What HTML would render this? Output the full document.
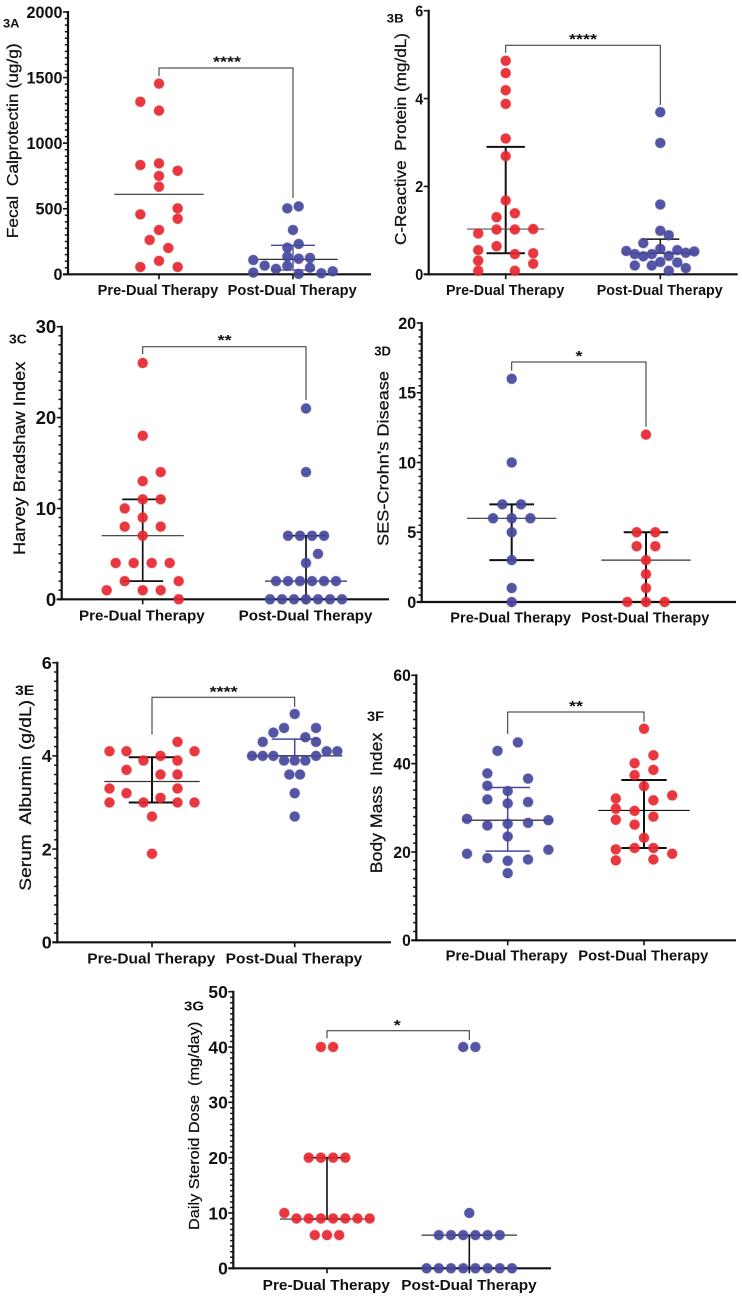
<!DOCTYPE html>
<html lang="en">
<head>
<meta charset="utf-8">
<title>Dual Therapy Outcomes, Panels 3A to 3G</title>
<style>
html,body{margin:0;padding:0;background:#fff;}
svg{display:block;filter:blur(0.3px);}
text{font-family:"Liberation Sans",Arial,sans-serif;fill:#111;white-space:pre;}
</style>
</head>
<body>
<svg id="figure" width="742" height="1298" viewBox="0 0 742 1298" xmlns="http://www.w3.org/2000/svg">
  <g id="panel-a"></g>
  <g id="panel-b"></g>
  <g id="panel-c"></g>
  <g id="panel-d"></g>
  <g id="panel-e"></g>
  <g id="panel-f"></g>
  <g id="panel-g"></g>
</svg>
<script>
const categories = ['Pre-Dual Therapy', 'Post-Dual Therapy'];

// Panel 3A
const aTicks = [0, 500, 1000, 1500, 2000];
const aPreValues = [1454,1316,1248,833,846,790,750,668,503,457,424,338,262,201,102,56,56];
const aPreSlots = [0,-2,0,-2,0,2,0,0,2,-2,2,0,-1,1,0,-2,2];
const aPreStats = [610, null, null];
const aPostValues = [503,518,338,231,203,135,119,125,109,66,41,64,51,13,3,8,23];
const aPostSlots = [-1,1,0,1,-1,-1,1,3,-7,-5,-3,-1,3,-7,1,5,7];
const aPostStats = [114, 33, 221];

// Panel 3B
const bTicks = [0, 2, 4, 6];
const bPreValues = [4.86,4.58,4.19,3.88,3.09,2.69,1.68,1.39,1.30,1.02,1.02,1.03,0.93,0.64,0.55,0.46,0.48,0.31,0.24,0.08,0.08];
const bPreSlots = [0,0,0,0,0,0,0,1,-1,-1,1,3,-3,-1,-3,1,3,-3,3,-3,1];
const bPreStats = [1.03, 0.48, 2.90];
const bPostValues = [3.69,2.99,1.59,0.99,0.89,0.71,0.58,0.55,0.53,0.46,0.41,0.46,0.42,0.49,0.52,0.20,0.20,0.28,0.27,0.14,0.08];
const bPostSlots = [0,0,0,0,1,-2,0,2,-4,-3,-2,-1,1,3,4,-3,-1,0,2,3,1];
const bPostStats = [0.48, 0.48, 0.80];

// Panel 3C
const cTicks = [0, 10, 20, 30];
const cPreValues = [26,18,14,13,11,11,10,9,8,8,7,4,4,4,4,2,2,1,1,1,0];
const cPreSlots = [0,0,2,0,0,2,-2,0,-2,2,0,-3,-1,1,3,-2,4,-4,0,2,4];
const cPreStats = [7, 2, 11];
const cPostValues = [21,14,7,7,7,7,5,4,2,2,2,2,2,2,0,0,0,0,0,0,0];
const cPostSlots = [0,0,-3,-1,1,3,2,0,-5,-3,-1,1,3,5,-6,-4,-2,0,2,4,6];
const cPostStats = [2, 0, 7];

// Panel 3D
const dTicks = [0, 5, 10, 15, 20];
const dPreValues = [16,10,7,7,6,6,6,5,3,1,0];
const dPreSlots = [0,0,-1,1,-2,0,2,0,0,0,0];
const dPreStats = [6, 3, 7];
const dPostValues = [12,5,5,4,4,3,2,1,0,0,0];
const dPostSlots = [0,-1,1,-1,1,0,0,0,-2,0,2];
const dPostStats = [3, 0, 5];

// Panel 3E
const eTicks = [0, 2, 4, 6];
const ePreValues = [4.1,4.1,3.9,4.0,3.9,4.3,4.1,3.7,3.6,3.6,3.3,3.3,3.2,3.1,3.0,3.0,3.0,3.0,2.7,1.9];
const ePreSlots = [-5,-3,-1,1,3,3,5,-3,1,3,-5,3,-3,1,-5,-1,3,5,0,0];
const ePreStats = [3.45, 3.0, 3.97];
const ePostValues = [4.9,4.6,4.6,4.5,4.4,4.3,4.3,4.1,4.1,4.0,4.0,4.0,4.0,3.9,3.9,3.9,3.6,3.6,3.2,2.7];
const ePostSlots = [0,-2,4,-4,2,-6,4,6,8,-8,-6,-4,4,-2,0,2,-1,1,0,0];
const ePostStats = [4.0, 4.0, 4.36];

// Panel 3F
const fTicks = [0, 20, 40, 60];
const fPreValues = [44.8,42.9,37.8,36.6,35,33.8,31.9,31,31.3,27.5,27.2,26,26.4,26.6,23.5,20.5,19.6,18.6,18.3,18,15.2];
const fPreSlots = [1,-1,-2,2,-2,0,-2,0,2,-4,4,-2,0,2,0,4,-4,-2,2,0,0];
const fPreStats = [27.2, 20.2, 34.6];
const fPostValues = [47.9,41.9,40.1,38.6,37.4,34.9,32.8,32.1,31.7,29.8,29.3,28,27.3,26.2,23.2,20.6,20.9,20.9,19.6,18.1,18.3];
const fPostSlots = [0,1,-1,1,-1,0,3,-3,1,-3,-1,1,-3,-1,0,-3,-1,1,3,-3,1];
const fPostStats = [29.4, 20.9, 36.3];

// Panel 3G
const gTicks = [0, 10, 20, 30, 40, 50];
const gPreValues = [40,40,20,20,20,20,10,9,9,9,9,9,9,9,6,6,6];
const gPreSlots = [-1,1,-3,-1,1,3,-7,-5,-3,-1,1,3,5,7,-2,0,2];
const gPreStats = [8.9, 8.9, 20];
const gPostValues = [40,40,10,6,6,6,6,6,6,0,0,0,0,0,0,0,0];
const gPostSlots = [-1,1,0,-5,-3,-1,1,3,5,-7,-5,-3,-1,1,3,5,7];
const gPostStats = [6, 0, 6];

const RED = '#e6262f';
const BLUE = '#45489d';
const NS = 'http://www.w3.org/2000/svg';

function svgEl(tag, parent) {
  const el = document.createElementNS(NS, tag);
  parent.appendChild(el);
  return el;
}

function setAll(el, attrs) {
  Object.keys(attrs).forEach(function (k) { el.setAttribute(k, attrs[k]); });
}

function drawGroup(g, p, idx, values, slots, stats, look, yScale) {
  const cx = p.cats[idx];
  const [median, low, high] = stats;
  const groupName = idx === 0 ? 'pre-therapy' : 'post-therapy';
  const series = svgEl('g', g);
  
  

  if (high !== null) {
    const spread = svgEl('line', series);
    setAll(spread, {x1: cx, x2: cx, y1: yScale(high), y2: yScale(low), stroke: look.bar, 'stroke-width': look.barW});
    
    

    const capHigh = svgEl('line', series);
    setAll(capHigh, {x1: cx - look.cap, x2: cx + look.cap, y1: yScale(high), y2: yScale(high), stroke: look.bar, 'stroke-width': look.barW});
    
    

    const capLow = svgEl('line', series);
    setAll(capLow, {x1: cx - look.cap, x2: cx + look.cap, y1: yScale(low), y2: yScale(low), stroke: look.bar, 'stroke-width': look.barW});
    
    
  }

  const med = svgEl('line', series);
  setAll(med, {x1: cx + look.med[0], x2: cx + look.med[1], y1: yScale(median), y2: yScale(median), stroke: look.medColor || '#333', 'stroke-width': 1.2});
  
  

  values.forEach(function (v, i) {
    const dot = svgEl('circle', series);
    setAll(dot, {cx: cx + slots[i] * look.unit, cy: yScale(v), r: 5, fill: look.color, 'fill-opacity': 0.92, stroke: look.color, 'stroke-opacity': 0.35, 'stroke-width': 1});
    
    
  });
}

function drawPanel(p) {
  const g = document.getElementById(p.id);
  const ticks = p.ticks;
  const max = ticks[ticks.length - 1];
  const yScale = function (v) { return p.y0 - (v / max) * (p.y0 - p.yTop); };

  const yAxis = svgEl('line', g);
  setAll(yAxis, {x1: p.x0, x2: p.x0, y1: p.yTop - 1, y2: p.y0 + 1, stroke: '#111', 'stroke-width': 2.2});
  
  

  const xAxis = svgEl('line', g);
  setAll(xAxis, {x1: p.x0 - 5, x2: p.xEnd, y1: p.y0, y2: p.y0, stroke: '#111', 'stroke-width': 2.2});
  
  

  for (let t = 0; t < ticks.length - 1; t++) {
    for (let m = 1; m < p.minor; m++) {
      const v = ticks[t] + (ticks[t + 1] - ticks[t]) * m / p.minor;
      const minor = svgEl('line', g);
      setAll(minor, {x1: p.x0 - 3.2, x2: p.x0, y1: yScale(v), y2: yScale(v), stroke: '#111', 'stroke-width': 1.5});
      
      
    }
  }

  ticks.forEach(function (v) {
    const tick = svgEl('line', g);
    setAll(tick, {x1: p.x0 - 5, x2: p.x0, y1: yScale(v), y2: yScale(v), stroke: '#111', 'stroke-width': 1.6});
    
    

    const label = svgEl('text', g);
    const s = String(v);
    setAll(label, {x: p.x0 - 5.5, y: yScale(v) + p.tickSize * 0.36, 'text-anchor': 'end', 'font-weight': 'bold', 'font-size': p.tickSize, textLength: s.length * p.digitW, lengthAdjust: 'spacingAndGlyphs'});
    label.textContent = s;
    
    
  });

  p.cats.forEach(function (cx, i) {
    const tick = svgEl('line', g);
    setAll(tick, {x1: cx, x2: cx, y1: p.y0, y2: p.y0 + 5, stroke: '#111', 'stroke-width': 1.6});
    
    

    const label = svgEl('text', g);
    const span = p.catSpans[i];
    setAll(label, {x: span[0], y: p.catY, 'font-weight': 'bold', 'font-size': p.catSize, textLength: span[1] - span[0], lengthAdjust: 'spacingAndGlyphs'});
    label.textContent = categories[i];
    
    
  });

  const title = svgEl('text', g);
  const midY = (p.title.top + p.title.bottom) / 2;
  setAll(title, {x: 0, y: 0, 'text-anchor': 'middle', 'font-size': p.title.size, 'font-weight': p.title.weight || 'normal', textLength: p.title.bottom - p.title.top, lengthAdjust: 'spacingAndGlyphs', transform: 'translate(' + (p.title.x + p.title.size * 0.36) + ',' + midY + ') rotate(-90)', 'stroke': '#111', 'stroke-width': 0.25});
  title.textContent = p.title.text;
  
  

  const tag = svgEl('text', g);
  setAll(tag, {x: p.tag.x, y: p.tag.y, 'font-weight': 'bold', 'font-size': p.tag.size, textLength: p.tag.w, lengthAdjust: 'spacingAndGlyphs'});
  tag.textContent = p.tag.text;
  
  

  drawGroup(g, p, 0, p.pre.values, p.pre.slots, p.pre.stats, p.pre, yScale);
  drawGroup(g, p, 1, p.post.values, p.post.slots, p.post.stats, p.post, yScale);

  const br = p.bracket;
  const bracket = svgEl('path', g);
  setAll(bracket, {d: 'M' + p.cats[0] + ' ' + br.left + 'V' + br.top + 'H' + p.cats[1] + 'V' + br.right, fill: 'none', stroke: '#2b2b2b', 'stroke-width': 1});
  
  

  const stars = svgEl('text', g);
  setAll(stars, {x: br.starX, y: br.starY + 7.5, 'text-anchor': 'middle', 'font-weight': 'bold', 'font-size': 15, textLength: br.stars.length * 7, lengthAdjust: 'spacingAndGlyphs'});
  stars.textContent = br.stars;
  
  
}

const panels = [
  {id: 'panel-a', ticks: aTicks, x0: 68, y0: 274.3, yTop: 12, xEnd: 371, cats: [159, 293], minor: 10,
   tickSize: 16.5, digitW: 9, catSize: 14.5, catY: 295, catSpans: [[97.7, 218.3], [227.7, 356.7]],
   title: {text: 'Fecal  Calprotectin (ug/g)', x: 12, top: 43.3, bottom: 238.3, size: 16},
   tag: {text: '3A', x: 3, y: 27.5, size: 12, w: 16.5},
   bracket: {top: 68, left: 76, right: 198, starX: 227, starY: 59, stars: '****'},
   pre: {values: aPreValues, slots: aPreSlots, stats: aPreStats, color: RED, unit: 9.33, med: [-44.7, 44.7], cap: 22, bar: '#111', barW: 1.5},
   post: {values: aPostValues, slots: aPostSlots, stats: aPostStats, color: BLUE, unit: 5.67, med: [-34.7, 44.7], cap: 22, bar: BLUE, barW: 1.3}},
  {id: 'panel-b', ticks: bTicks, x0: 428.7, y0: 274.3, yTop: 10.7, xEnd: 737.7, cats: [505.7, 660.3], minor: 1,
   tickSize: 16, digitW: 8, catSize: 14.3, catY: 295, catSpans: [[446, 564.3], [596.7, 722.7]],
   title: {text: 'C-Reactive  Protein (mg/dL)', x: 400, top: 33, bottom: 245, size: 16},
   tag: {text: '3B', x: 386.7, y: 22.7, size: 12, w: 17},
   bracket: {top: 45.3, left: 52.7, right: 105, starX: 583, starY: 36.7, stars: '****'},
   pre: {values: bPreValues, slots: bPreSlots, stats: bPreStats, color: RED, unit: 9.17, med: [-38.7, 38.7], cap: 19.2, bar: '#111', barW: 2, medColor: '#555'},
   post: {values: bPostValues, slots: bPostSlots, stats: bPostStats, color: BLUE, unit: 8.5, med: [-38, 38], cap: 19, bar: '#111', barW: 1.5}},
  {id: 'panel-c', ticks: cTicks, x0: 61.7, y0: 599.3, yTop: 326.7, xEnd: 389, cats: [142.7, 306], minor: 10,
   tickSize: 18, digitW: 10.3, catSize: 15, catY: 620.7, catSpans: [[79, 204.7], [238.7, 372.5]],
   title: {text: 'Harvey Bradshaw Index', x: 19.3, top: 361.7, bottom: 555, size: 16.5},
   tag: {text: '3C', x: 9, y: 343.3, size: 12.5, w: 17.7},
   bracket: {top: 346.7, left: 354, right: 400, starX: 224.7, starY: 337.3, stars: '**'},
   pre: {values: cPreValues, slots: cPreSlots, stats: cPreStats, color: RED, unit: 9, med: [-41, 41], cap: 20.5, bar: '#111', barW: 1.7},
   post: {values: cPostValues, slots: cPostSlots, stats: cPostStats, color: BLUE, unit: 6, med: [-41, 41], cap: 20.5, bar: '#111', barW: 1.7}},
  {id: 'panel-d', ticks: dTicks, x0: 421.7, y0: 602, yTop: 323, xEnd: 736, cats: [511.7, 646], minor: 10,
   tickSize: 16.5, digitW: 9, catSize: 14.5, catY: 622.7, catSpans: [[450.3, 571], [581.3, 709.3]],
   title: {text: "SES-Crohn's Disease", x: 382.7, top: 371, bottom: 546, size: 16},
   tag: {text: '3D', x: 374.3, y: 355.7, size: 12.5, w: 16.7},
   bracket: {top: 362, left: 370.7, right: 426.7, starX: 579, starY: 353.3, stars: '*'},
   pre: {values: dPreValues, slots: dPreSlots, stats: dPreStats, color: BLUE, unit: 9.33, med: [-44.7, 44.7], cap: 22.3, bar: '#111', barW: 2},
   post: {values: dPostValues, slots: dPostSlots, stats: dPostStats, color: RED, unit: 9.33, med: [-44.7, 44.7], cap: 22.3, bar: '#111', barW: 2}},
  {id: 'panel-e', ticks: eTicks, x0: 57.3, y0: 942.3, yTop: 662.7, xEnd: 391, cats: [152, 294.7], minor: 10,
   tickSize: 17.5, digitW: 10, catSize: 15.2, catY: 963.3, catSpans: [[87.3, 215.3], [225.7, 362.3]],
   title: {text: 'Serum  Albumin (g/dL)', x: 25, top: 700, bottom: 890.7, size: 16.5},
   tag: {text: '3E', x: 15, y: 695, size: 14, w: 19.3},
   bracket: {top: 697.3, left: 734.7, right: 706.7, starX: 223.7, starY: 689, stars: '****'},
   pre: {values: ePreValues, slots: ePreSlots, stats: ePreStats, color: RED, unit: 8.5, med: [-47.7, 47.7], cap: 23.3, bar: '#111', barW: 2},
   post: {values: ePostValues, slots: ePostSlots, stats: ePostStats, color: BLUE, unit: 5.33, med: [-47.3, 47.7], cap: 23, bar: BLUE, barW: 1.5}},
  {id: 'panel-f', ticks: fTicks, x0: 416.3, y0: 940.3, yTop: 675.3, xEnd: 736, cats: [507.7, 644], minor: 10,
   tickSize: 16.5, digitW: 8.7, catSize: 14.6, catY: 960.7, catSpans: [[445.7, 567.7], [578.3, 708.3]],
   title: {text: 'Body Mass  Index', x: 376, top: 732.7, bottom: 873.3, size: 16.5},
   tag: {text: '3F', x: 367, y: 721, size: 14, w: 17},
   bracket: {top: 712, left: 734, right: 721.7, starX: 576, starY: 703.3, stars: '**'},
   pre: {values: fPreValues, slots: fPreSlots, stats: fPreStats, color: BLUE, unit: 10.17, med: [-45.7, 45.7], cap: 22.3, bar: BLUE, barW: 1.5, medColor: '#111'},
   post: {values: fPostValues, slots: fPostSlots, stats: fPostStats, color: RED, unit: 9.4, med: [-45.7, 45.7], cap: 22.7, bar: '#111', barW: 2, medColor: '#111'}},
  {id: 'panel-g', ticks: gTicks, x0: 233.3, y0: 1268.3, yTop: 991.7, xEnd: 551, cats: [327, 469.3], minor: 10,
   tickSize: 17.5, digitW: 9.7, catSize: 15, catY: 1290, catSpans: [[262.7, 390], [401.3, 536.7]],
   title: {text: 'Daily Steroid Dose  (mg/day)', x: 194, top: 1021.7, bottom: 1230, size: 14.5},
   tag: {text: '3G', x: 184, y: 1010.7, size: 13, w: 20},
   bracket: {top: 1030.7, left: 1038.3, right: 1040, starX: 397.3, starY: 1022.3, stars: '*'},
   pre: {values: gPreValues, slots: gPreSlots, stats: gPreStats, color: RED, unit: 6.1, med: [-47, 47], cap: 20, bar: '#111', barW: 1.6},
   post: {values: gPostValues, slots: gPostSlots, stats: gPostStats, color: BLUE, unit: 6.1, med: [-47.7, 47.7], cap: 20, bar: '#111', barW: 1.6}}
];

panels.forEach(drawPanel);
</script>
</body>
</html>
